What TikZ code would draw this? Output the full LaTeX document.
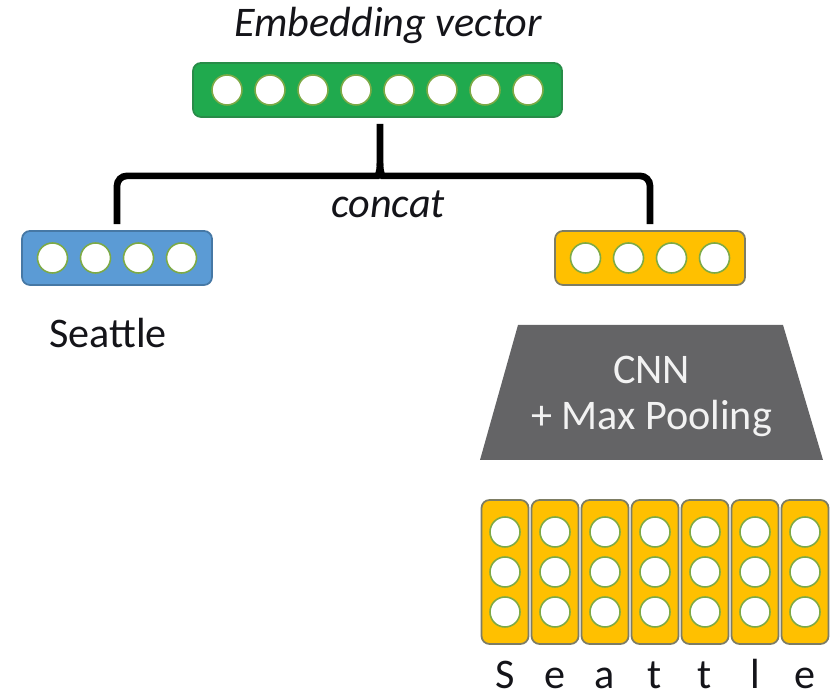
\documentclass[tikz,border=0pt]{standalone}
\usepackage{fontspec}
\setmainfont{Carlito}
\usetikzlibrary{calc}

\definecolor{embgreen}{RGB}{32,170,78}
\definecolor{embgreenline}{RGB}{40,140,72}
\definecolor{wordblue}{RGB}{91,155,213}
\definecolor{wordblueline}{RGB}{70,120,165}
\definecolor{chargold}{RGB}{255,192,0}
\definecolor{chargoldline}{RGB}{125,125,100}
\definecolor{unitring}{RGB}{125,170,70}
\definecolor{cnngray}{RGB}{100,100,102}
\definecolor{textdark}{RGB}{20,20,25}

\begin{document}
\begin{tikzpicture}[
    vecbar/.style={
        rectangle,
        rounded corners=0.16cm,
        minimum height=1.08cm,
        line width=1pt
    },
    greenbar/.style={vecbar, fill=embgreen, draw=embgreenline, minimum width=7.38cm},
    bluebar/.style={vecbar, fill=wordblue, draw=wordblueline, minimum width=3.8cm},
    goldbar/.style={vecbar, fill=chargold, draw=chargoldline, minimum width=3.8cm},
    charcol/.style={vecbar, fill=chargold, draw=chargoldline, minimum width=0.94cm, minimum height=2.88cm},
    neuron/.style={
        circle,
        fill=white,
        draw=unitring,
        line width=0.9pt,
        minimum size=0.6cm,
        inner sep=0pt
    },
    txt/.style={font=\fontsize{24}{26}\selectfont, text=textdark, inner sep=0pt},
    brace/.style={line width=3.8pt}
]
\useasboundingbox (0,0) rectangle (16.72,13.98);

% Embedding vector
\node[txt, font=\fontsize{24}{26}\selectfont\itshape, anchor=base] (embtitle) at (7.76,13.24) {Embedding vector};
\node[greenbar] (green) at (7.55,12.18) {};
\node[neuron] (g1) at (4.54,12.18) {};
\node[neuron] (g2) at (5.40,12.18) {};
\node[neuron] (g3) at (6.26,12.18) {};
\node[neuron] (g4) at (7.12,12.18) {};
\node[neuron] (g5) at (7.98,12.18) {};
\node[neuron] (g6) at (8.84,12.18) {};
\node[neuron] (g7) at (9.70,12.18) {};
\node[neuron] (g8) at (10.56,12.18) {};

% Word embedding
\node[bluebar] (blue) at (2.34,8.82) {};
\node[neuron] (b1) at (1.05,8.82) {};
\node[neuron] (b2) at (1.91,8.82) {};
\node[neuron] (b3) at (2.77,8.82) {};
\node[neuron] (b4) at (3.63,8.82) {};
\node[txt, anchor=base] (word) at (2.16,7.02) {Seattle};

% Character embedding
\node[goldbar] (gold) at (13.00,8.82) {};
\node[neuron] (y1) at (11.71,8.82) {};
\node[neuron] (y2) at (12.57,8.82) {};
\node[neuron] (y3) at (13.43,8.82) {};
\node[neuron] (y4) at (14.29,8.82) {};

% Concat brace
\coordinate (join) at ($(green.south)+(0.05,-1.16)$);
\draw[brace] ($(blue.north)+(0,0.12)$) [rounded corners=0.2cm] |- ($(join)+(-0.25,0)$) [sharp corners]
    .. controls ($(join)+(-0.05,0)$) and ($(join)+(0,0.05)$) .. ($(join)+(0,0.25)$)
    -- ($(join |- green.south)+(0,-0.12)$);
\draw[brace] ($(gold.north)+(0,0.12)$) [rounded corners=0.2cm] |- ($(join)+(0.25,0)$) [sharp corners]
    .. controls ($(join)+(0.05,0)$) and ($(join)+(0,0.05)$) .. ($(join)+(0,0.25)$);
\node[txt, font=\fontsize{24}{26}\selectfont\itshape, anchor=base] (concat) at (7.76,9.62) {concat};

% CNN
\fill[cnngray] (9.60,4.78) -- (16.46,4.78) -- (15.66,7.48) -- (10.36,7.48) -- cycle;
\node[txt, text=white!95!black, align=center] (cnn) at (13.03,6.05) {CNN\\+ Max Pooling};

% Characters
\node[charcol] (c1) at (10.10,2.54) {};
\node[charcol] (c2) at (11.10,2.54) {};
\node[charcol] (c3) at (12.10,2.54) {};
\node[charcol] (c4) at (13.10,2.54) {};
\node[charcol] (c5) at (14.10,2.54) {};
\node[charcol] (c6) at (15.10,2.54) {};
\node[charcol] (c7) at (16.10,2.54) {};

\node[neuron] (c1a) at (10.10,3.34) {};
\node[neuron] (c1b) at (10.10,2.54) {};
\node[neuron] (c1c) at (10.10,1.74) {};
\node[neuron] (c2a) at (11.10,3.34) {};
\node[neuron] (c2b) at (11.10,2.54) {};
\node[neuron] (c2c) at (11.10,1.74) {};
\node[neuron] (c3a) at (12.10,3.34) {};
\node[neuron] (c3b) at (12.10,2.54) {};
\node[neuron] (c3c) at (12.10,1.74) {};
\node[neuron] (c4a) at (13.10,3.34) {};
\node[neuron] (c4b) at (13.10,2.54) {};
\node[neuron] (c4c) at (13.10,1.74) {};
\node[neuron] (c5a) at (14.10,3.34) {};
\node[neuron] (c5b) at (14.10,2.54) {};
\node[neuron] (c5c) at (14.10,1.74) {};
\node[neuron] (c6a) at (15.10,3.34) {};
\node[neuron] (c6b) at (15.10,2.54) {};
\node[neuron] (c6c) at (15.10,1.74) {};
\node[neuron] (c7a) at (16.10,3.34) {};
\node[neuron] (c7b) at (16.10,2.54) {};
\node[neuron] (c7c) at (16.10,1.74) {};

\node[txt, anchor=base] (l1) at (10.10,0.2) {S};
\node[txt, anchor=base] (l2) at (11.10,0.2) {e};
\node[txt, anchor=base] (l3) at (12.10,0.2) {a};
\node[txt, anchor=base] (l4) at (13.10,0.2) {t};
\node[txt, anchor=base] (l5) at (14.10,0.2) {t};
\node[txt, anchor=base] (l6) at (15.10,0.2) {l};
\node[txt, anchor=base] (l7) at (16.10,0.2) {e};

\end{tikzpicture}
\end{document}
